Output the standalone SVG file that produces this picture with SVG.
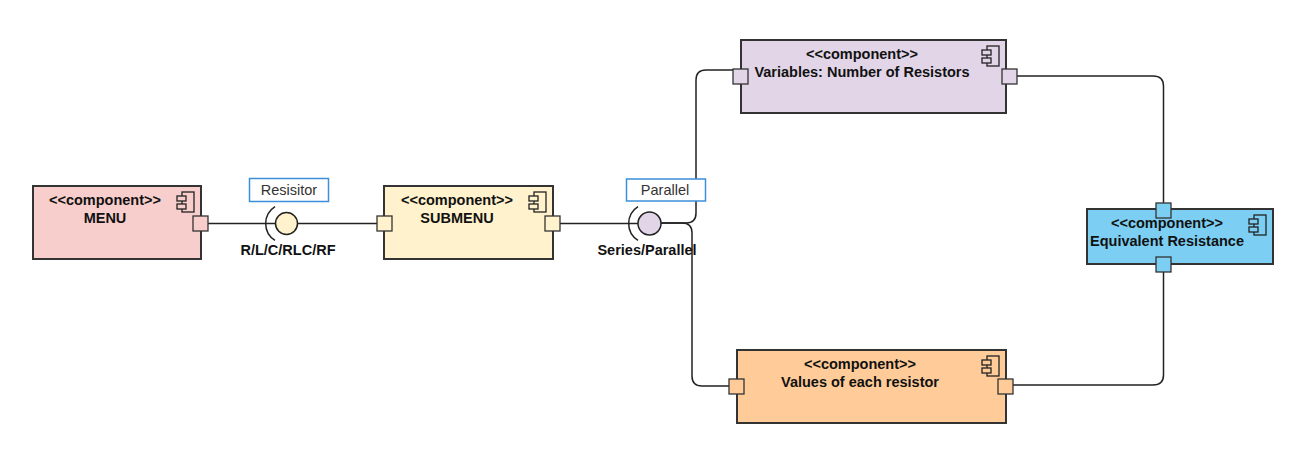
<svg xmlns="http://www.w3.org/2000/svg" xmlns:xlink="http://www.w3.org/1999/xlink" width="1312" height="464" viewBox="0 0 1312 464">
<style>
.box{stroke:#333;stroke-width:2}
.port{stroke:#333;stroke-width:1.3}
.ico{stroke:#222;stroke-width:1.3}
.t{font-family:"Liberation Sans",Arial,sans-serif;font-size:14.5px;font-weight:bold;fill:#111;text-anchor:middle}
.lt{font-family:"Liberation Sans",Arial,sans-serif;font-size:14.5px;fill:#333;text-anchor:middle}
.lbl{fill:#fff;stroke:#3d8fd9;stroke-width:1.5}
.conn{fill:none;stroke:#222;stroke-width:1.5}
.ball{stroke:#222;stroke-width:1.5}
.sock{fill:none;stroke:#222;stroke-width:1.5}
</style>
<defs>
<g id="icon">
<rect x="-19" y="6" width="12" height="20"/>
<rect x="-24" y="10" width="9" height="5"/>
<rect x="-24" y="18" width="9" height="5"/>
</g>
</defs>
<rect width="1312" height="464" fill="#fff"/>
<g id="connectors">
<path class="conn" d="M208 223.5 H275.5"/>
<path class="conn" d="M297.5 223.5 H377"/>
<path class="conn" d="M560 223.5 H638"/>
<path class="conn" d="M661 223 H686 Q696 223 696 213 V80 Q696 70 706 70 H733"/>
<path class="conn" d="M661 223 H682 Q692 223 692 233 V376 Q692 386 702 386 H729"/>
<path class="conn" d="M1017 76 H1153 Q1163.5 76 1163.5 86 V203"/>
<path class="conn" d="M1163.5 272 V375 Q1163.5 385 1153 385 H1013"/>
</g>
<g id="iface-resistor">
<path class="sock" d="M275 206.6 A20 20 0 0 0 275 240.4"/>
<circle class="ball" cx="286.5" cy="223.5" r="11" fill="#fff2cc"/>
<rect class="lbl" x="249.5" y="178.5" width="79" height="23"/>
<text class="lt" x="289" y="195">Resisitor</text>
<text class="t" x="288" y="255">R/L/C/RLC/RF</text>
</g>
<g id="iface-parallel">
<path class="sock" d="M638 206.6 A20 20 0 0 0 638 240.4"/>
<circle class="ball" cx="649.5" cy="223.5" r="11.5" fill="#e1d5e7"/>
<rect class="lbl" x="626.5" y="179" width="79" height="22"/>
<text class="lt" x="665" y="195">Parallel</text>
<text class="t" x="647" y="255">Series/Parallel</text>
</g>
<g id="menu">
<rect class="box" x="33" y="186" width="168" height="73" fill="#f8cecc"/>
<use href="#icon" xlink:href="#icon" class="ico" fill="#f8cecc" transform="translate(201,186)"/>
<rect class="port" x="193" y="216" width="15" height="15" fill="#f8cecc"/>
<text class="t" x="105" y="205">&lt;&lt;component&gt;&gt;</text>
<text class="t" x="105" y="223">MENU</text>
</g>
<g id="submenu">
<rect class="box" x="384" y="186" width="169" height="73" fill="#fff2cc"/>
<use href="#icon" xlink:href="#icon" class="ico" fill="#fff2cc" transform="translate(553,186)"/>
<rect class="port" x="377" y="216" width="15" height="15" fill="#fff2cc"/>
<rect class="port" x="545" y="216" width="15" height="15" fill="#fff2cc"/>
<text class="t" x="457" y="205">&lt;&lt;component&gt;&gt;</text>
<text class="t" x="457" y="223">SUBMENU</text>
</g>
<g id="variables">
<rect class="box" x="741" y="40" width="265" height="73" fill="#e1d5e7"/>
<use href="#icon" xlink:href="#icon" class="ico" fill="#e1d5e7" transform="translate(1006,40)"/>
<rect class="port" x="733" y="69" width="15" height="15" fill="#e1d5e7"/>
<rect class="port" x="1002" y="69" width="15" height="15" fill="#e1d5e7"/>
<text class="t" x="862" y="58.5">&lt;&lt;component&gt;&gt;</text>
<text class="t" x="862" y="76.5">Variables: Number of Resistors</text>
</g>
<g id="values">
<rect class="box" x="737" y="350" width="269" height="73" fill="#ffcc99"/>
<use href="#icon" xlink:href="#icon" class="ico" fill="#ffcc99" transform="translate(1006,350)"/>
<rect class="port" x="729" y="379" width="15" height="15" fill="#ffcc99"/>
<rect class="port" x="998" y="379" width="15" height="15" fill="#ffcc99"/>
<text class="t" x="860" y="368.5">&lt;&lt;component&gt;&gt;</text>
<text class="t" x="860" y="386.5">Values of each resistor</text>
</g>
<g id="equivalent">
<rect class="box" x="1087" y="209" width="186" height="55" fill="#7ccff3"/>
<use href="#icon" xlink:href="#icon" class="ico" fill="#7ccff3" transform="translate(1273,209)"/>
<rect class="port" x="1156" y="203" width="15" height="15" fill="#7ccff3"/>
<rect class="port" x="1156" y="257" width="15" height="15" fill="#7ccff3"/>
<text class="t" x="1167" y="228">&lt;&lt;component&gt;&gt;</text>
<text class="t" x="1167" y="245.5">Equivalent Resistance</text>
</g>
</svg>
